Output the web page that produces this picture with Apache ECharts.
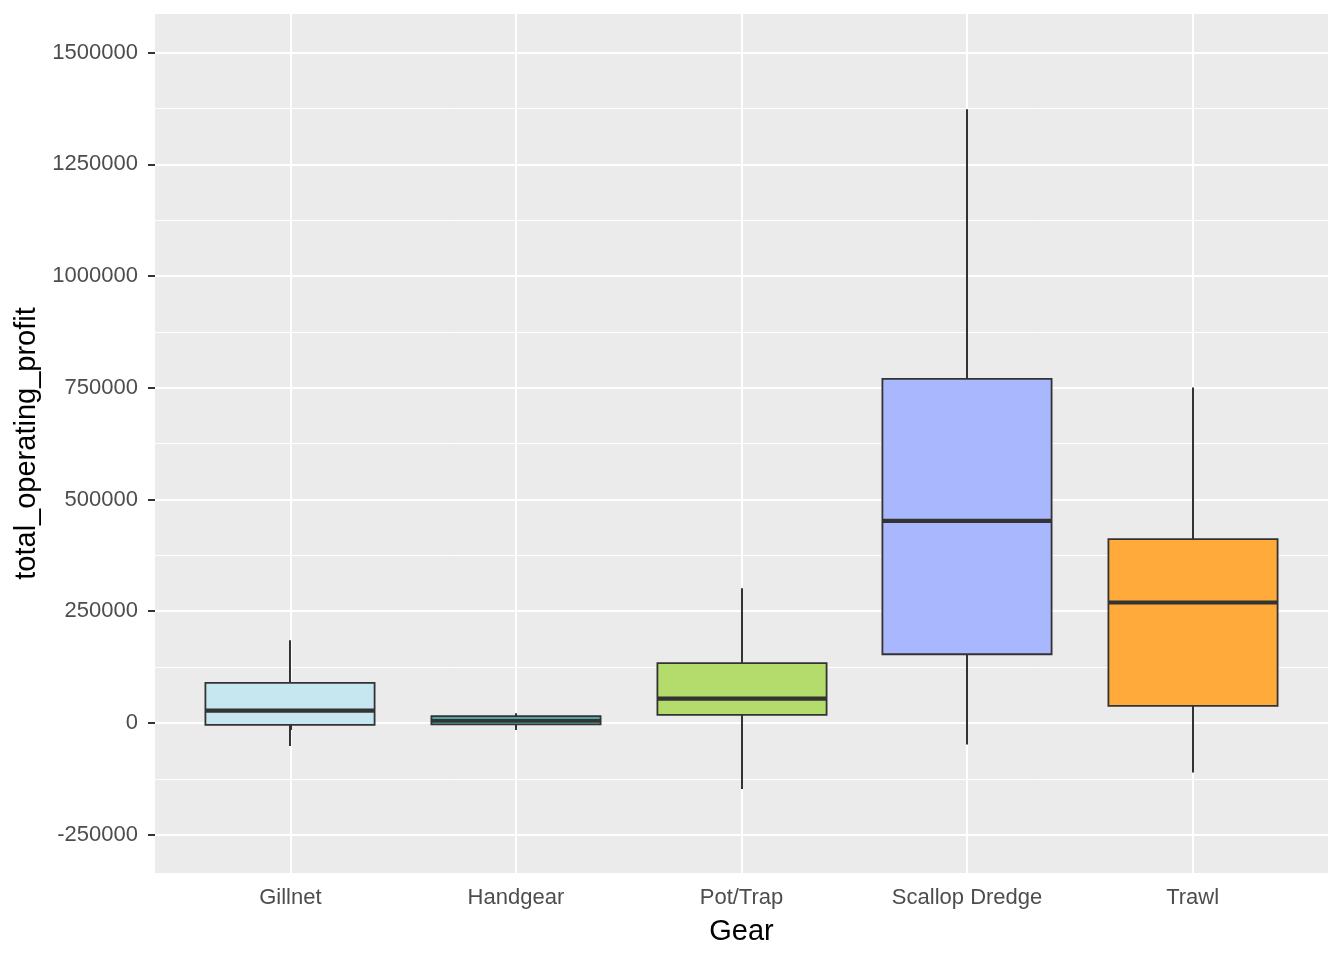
<!DOCTYPE html>
<html>
<head>
<meta charset="utf-8">
<title>total_operating_profit by Gear</title>
<script src="https://cdn.jsdelivr.net/npm/echarts@6/dist/echarts.min.js"></script>
<style>
  html, body { margin: 0; padding: 0; background: #ffffff; }
  #main { width: 1344px; height: 960px; }
</style>
</head>
<body>
<div id="main"></div>
<script>
// box statistics per gear
let gears = ['Gillnet', 'Handgear', 'Pot/Trap', 'Scallop Dredge', 'Trawl'];
let whiskerLow = [-51500, -15700, -147800, -48400, -111000];
let lowerQuartile = [-4500, -3000, 17900, 153800, 38100];
let medians = [27800, 4900, 54600, 452200, 269600];
let upperQuartile = [89600, 15000, 133700, 770200, 411300];
let whiskerHigh = [185200, 21700, 301600, 1373300, 750900];
let fills = ['#C6E7F0', '#5FCDC8', '#B3DC6C', '#A8B7FE', '#FFAA3A'];

// axis ticks
let yTicks = [-250000, 0, 250000, 500000, 750000, 1000000, 1250000, 1500000];
let yMinor = [-125000, 125000, 375000, 625000, 875000, 1125000, 1375000];
let xTicks = [1, 2, 3, 4, 5];

let yMin = -335800;
let yMax = 1586600;

// rows for the custom series: [x, low, q1, median, q3, high]
let boxData = [];
for (let i = 0; i < gears.length; i++) {
    boxData.push([i + 1, whiskerLow[i], lowerQuartile[i], medians[i], upperQuartile[i], whiskerHigh[i]]);
}

let lineColor = '#333333';

function renderBox(params, api) {
    let x = api.value(0);
    let low = api.coord([x, api.value(1)]);
    let q1 = api.coord([x, api.value(2)]);
    let med = api.coord([x, api.value(3)]);
    let q3 = api.coord([x, api.value(4)]);
    let high = api.coord([x, api.value(5)]);
    let w = api.size([0.75, 0])[0];
    let cx = Math.round(low[0]);
    return {
        type: 'group',
        children: [
            { type: 'line', shape: { x1: cx, y1: high[1], x2: cx, y2: q3[1] }, style: { stroke: lineColor, lineWidth: 2 } },
            { type: 'line', shape: { x1: cx, y1: q1[1], x2: cx, y2: low[1] }, style: { stroke: lineColor, lineWidth: 2 } },
            {
                type: 'rect',
                shape: { x: cx - w / 2, y: q3[1], width: w, height: q1[1] - q3[1] },
                style: { fill: fills[params.dataIndex], stroke: lineColor, lineWidth: 1.8 }
            },
            { type: 'line', shape: { x1: cx - w / 2, y1: med[1], x2: cx + w / 2, y2: med[1] }, style: { stroke: lineColor, lineWidth: 4.2 } }
        ]
    };
}

let myChart = echarts.init(document.getElementById('main'));

let font = '"Liberation Sans", Arial, sans-serif';

let option = {
    animation: false,
    backgroundColor: '#ffffff',
    grid: {
        left: 155,
        right: 16,
        top: 14,
        bottom: 87,
        outerBoundsMode: 'none',
        containLabel: false,
        show: true,
        backgroundColor: '#EBEBEB',
        borderWidth: 0
    },
    xAxis: {
        type: 'value',
        min: 0.4,
        max: 5.6,
        name: 'Gear',
        nameLocation: 'middle',
        nameGap: 44,
        nameTextStyle: { fontFamily: font, fontSize: 29, color: '#000000' },
        axisLine: { show: false },
        axisTick: { show: true, length: 7, customValues: xTicks, lineStyle: { color: lineColor, width: 2 } },
        axisLabel: {
            customValues: xTicks,
            margin: 14,
            fontFamily: font,
            fontSize: 22,
            color: '#4D4D4D',
            formatter: function (v) { return gears[Math.round(v) - 1]; }
        },
        splitLine: { show: true, lineStyle: { color: '#ffffff', width: 2 } }
    },
    yAxis: [{
        type: 'value',
        min: yMin,
        max: yMax,
        name: 'total_operating_profit',
        nameLocation: 'middle',
        nameGap: 98,
        nameTextStyle: { fontFamily: font, fontSize: 29, color: '#000000' },
        axisLine: { show: false },
        axisTick: { show: true, length: 7, customValues: yTicks, lineStyle: { color: lineColor, width: 2 } },
        axisLabel: {
            customValues: yTicks,
            margin: 17,
            fontFamily: font,
            fontSize: 22,
            color: '#4D4D4D',
            formatter: function (v) { return String(v); }
        },
        splitLine: { show: true, lineStyle: { color: '#ffffff', width: 2 } }
    }, {
        // minor grid lines only
        type: 'value',
        min: yMin,
        max: yMax,
        position: 'left',
        axisLine: { show: false },
        axisTick: { show: false, customValues: yMinor },
        axisLabel: { show: false, customValues: yMinor },
        splitLine: { show: true, lineStyle: { color: '#ffffff', width: 1 } }
    }],
    series: [{
        type: 'custom',
        renderItem: renderBox,
        encode: { x: 0, y: [1, 2, 3, 4, 5] },
        data: boxData,
        z: 5
    }]
};

myChart.setOption(option);
</script>
</body>
</html>
